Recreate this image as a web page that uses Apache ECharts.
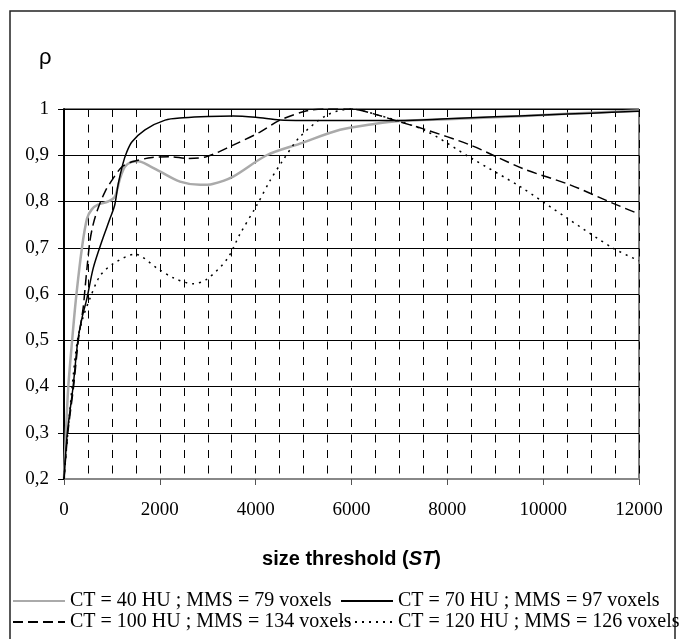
<!DOCTYPE html>
<html>
<head>
<meta charset="utf-8">
<script src="https://cdn.jsdelivr.net/npm/echarts@6/dist/echarts.min.js"></script>
<style>
  html, body { margin: 0; padding: 0; background: #fff; }
  #chart { width: 679px; height: 639px; }
</style>
</head>
<body>
<div id="chart"></div>
<script>
// size threshold (x) and rho (y) for each series
var ct40X = [0, 40, 90, 170, 250, 375, 480, 580, 710, 920, 1060, 1170, 1270, 1400, 1550, 1800, 2000, 2420, 2840, 3100, 3530, 4230, 4925, 5760, 6500, 7000, 8000, 9000, 10000, 11000, 12000];
var ct40Y = [0.2, 0.3, 0.4, 0.5, 0.59, 0.7, 0.763, 0.783, 0.793, 0.8, 0.81, 0.85, 0.875, 0.885, 0.887, 0.876, 0.865, 0.843, 0.836, 0.838, 0.854, 0.9, 0.925, 0.955, 0.968, 0.974, 0.978, 0.982, 0.987, 0.992, 0.997];

var ct70X = [0, 70, 190, 290, 380, 480, 610, 790, 960, 1060, 1130, 1230, 1310, 1420, 1690, 2110, 2490, 3000, 3530, 4000, 4510, 5000, 6000, 7000, 8000, 9000, 10000, 11000, 12000];
var ct70Y = [0.2, 0.3, 0.4, 0.5, 0.55, 0.591, 0.656, 0.714, 0.763, 0.793, 0.837, 0.882, 0.907, 0.929, 0.955, 0.976, 0.981, 0.984, 0.985, 0.982, 0.976, 0.975, 0.975, 0.975, 0.979, 0.983, 0.987, 0.991, 0.995];

var ct100X = [0, 80, 200, 300, 400, 440, 480, 540, 610, 710, 860, 1020, 1210, 1420, 1840, 2200, 2600, 2980, 3530, 4090, 4510, 5070, 5500, 6000, 6450, 7010, 7500, 8480, 9580, 10560, 11460, 12000];
var ct100Y = [0.2, 0.3, 0.4, 0.5, 0.57, 0.613, 0.656, 0.714, 0.751, 0.785, 0.822, 0.849, 0.875, 0.886, 0.895, 0.897, 0.893, 0.897, 0.922, 0.95, 0.976, 0.996, 1.0, 1.0, 0.99, 0.972, 0.957, 0.922, 0.871, 0.836, 0.796, 0.773];

var ct120X = [0, 80, 170, 280, 400, 540, 750, 1020, 1480, 1940, 2280, 2700, 2980, 3400, 3670, 4030, 4300, 4550, 4925, 5490, 6000, 6450, 7500, 8510, 9520, 10500, 11460, 12000];
var ct120Y = [0.2, 0.3, 0.4, 0.5, 0.55, 0.59, 0.639, 0.665, 0.686, 0.656, 0.635, 0.622, 0.632, 0.675, 0.729, 0.793, 0.845, 0.886, 0.94, 0.987, 1.0, 0.99, 0.955, 0.893, 0.832, 0.764, 0.699, 0.672];

var names = [
  'CT = 40 HU ; MMS = 79 voxels',
  'CT = 70 HU ; MMS = 97 voxels',
  'CT = 100 HU ; MMS = 134 voxels',
  'CT = 120 HU ; MMS = 126 voxels'
];

function zip(xs, ys) {
  return xs.map(function (x, i) { return [x, ys[i]]; });
}

var serif = 'Liberation Serif';
var sans = 'Liberation Sans';

function legendAt(name, left, top) {
  return {
    data: [name],
    left: left,
    top: top,
    padding: 0,
    itemWidth: 52,
    itemHeight: 14,
    itemGap: 0,
    selectedMode: false,
    itemStyle: { opacity: 0 },
    textStyle: { fontFamily: serif, fontSize: 20, color: '#000' }
  };
}

var chart = echarts.init(document.getElementById('chart'));
chart.setOption({
  animation: false,
  backgroundColor: '#fff',
  graphic: [{
    type: 'rect',
    shape: { x: 10, y: 11, width: 665, height: 660 },
    style: { fill: 'none', stroke: '#222', lineWidth: 1.5 },
    silent: true
  }],
  title: {
    text: 'ρ',
    left: 34,
    top: 42,
    textStyle: { fontFamily: sans, fontSize: 22, fontWeight: 'normal', color: '#000' }
  },
  legend: [
    legendAt(names[0], 12, 591),
    legendAt(names[1], 340, 591),
    legendAt(names[2], 12, 612),
    legendAt(names[3], 340, 612)
  ],
  grid: {
    left: 64, right: 40, top: 109, bottom: 160,
    show: true, borderColor: '#000', borderWidth: 1
  },
  xAxis: {
    type: 'value',
    min: 0, max: 12000, interval: 2000,
    name: 'size threshold ({it|ST})',
    nameLocation: 'middle',
    nameGap: 70,
    nameTextStyle: {
      fontFamily: sans, fontSize: 20, fontWeight: 'bold', color: '#000',
      rich: { it: { fontFamily: sans, fontSize: 20, fontWeight: 'bold', fontStyle: 'italic', color: '#000' } }
    },
    axisLine: { lineStyle: { color: '#888', width: 2 } },
    axisTick: { length: 6, lineStyle: { color: '#555' } },
    axisLabel: {
      margin: 22, fontFamily: serif, fontSize: 19, color: '#000',
      formatter: function (v) { return String(v); }
    },
    splitLine: { show: true, lineStyle: { color: '#000', type: [8, 7.5], width: 1 } },
    minorTick: { show: false, splitNumber: 4 },
    minorSplitLine: { show: true, lineStyle: { color: '#000', type: [8, 7.5], width: 1 } }
  },
  yAxis: {
    type: 'value',
    min: 0.2, max: 1, interval: 0.1,
    axisLine: { show: true, lineStyle: { color: '#000', width: 2 } },
    axisTick: { show: true, length: 6, lineStyle: { color: '#000' } },
    axisLabel: {
      margin: 15, fontFamily: serif, fontSize: 19, color: '#000',
      formatter: function (v) {
        return Math.abs(v - 1) < 1e-9 ? '1' : v.toFixed(1).replace('.', ',');
      }
    },
    splitLine: { show: true, lineStyle: { color: '#000', width: 1 } }
  },
  series: [
    {
      name: names[0], type: 'line', symbol: 'none', smooth: 0.3,
      lineStyle: { color: '#aaaaaa', width: 2.5 },
      itemStyle: { color: '#aaaaaa' },
      data: zip(ct40X, ct40Y)
    },
    {
      name: names[2], type: 'line', symbol: 'none', smooth: 0.3,
      lineStyle: { color: '#000', width: 1.5, type: [10, 5] },
      itemStyle: { color: '#000' },
      data: zip(ct100X, ct100Y)
    },
    {
      name: names[3], type: 'line', symbol: 'none', smooth: 0.3,
      lineStyle: { color: '#000', width: 1.5, type: [2, 5] },
      itemStyle: { color: '#000' },
      data: zip(ct120X, ct120Y)
    },
    {
      name: names[1], type: 'line', symbol: 'none', smooth: 0.3,
      lineStyle: { color: '#000', width: 1.5 },
      itemStyle: { color: '#000' },
      data: zip(ct70X, ct70Y)
    }
  ]
});
</script>
</body>
</html>
